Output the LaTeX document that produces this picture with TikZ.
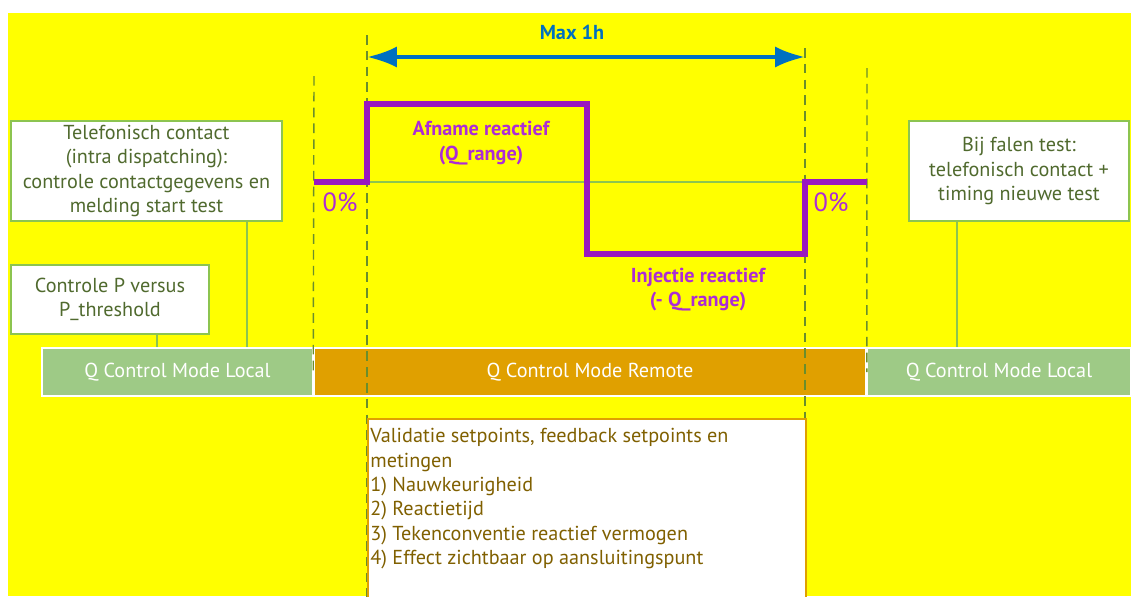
\documentclass[tikz,border=0pt]{standalone}
\usepackage{fontspec}
\setmainfont{PT Sans}
\usetikzlibrary{arrows.meta}
\definecolor{bgyellow}{RGB}{255,255,0}
\definecolor{maxblue}{RGB}{0,112,192}
\definecolor{sigpurple}{RGB}{153,24,192}
\definecolor{txtpurple}{RGB}{172,44,214}
\definecolor{dashgreen}{RGB}{106,142,44}
\definecolor{boxgreen}{RGB}{140,196,80}
\definecolor{txtgreen}{RGB}{80,106,46}
\definecolor{localgreen}{RGB}{158,202,134}
\definecolor{remoteorange}{RGB}{224,160,0}
\definecolor{txtbrown}{RGB}{128,96,0}
\newlength{\px}
\setlength{\px}{0.02cm}

\begin{document}
\begin{tikzpicture}[x=0.02cm,y=-0.02cm,
    note/.style={draw=boxgreen,line width=0.9pt,fill=white,text=txtgreen,align=center,inner sep=0pt,font=\fontsize{11.5}{14}\selectfont},
    mode/.style={draw=white,line width=0.9pt,text=white,minimum height=48\px,inner sep=0pt,font=\fontsize{11.5}{14}\selectfont},
    tline/.style={draw=dashgreen,line width=0.8pt,dash pattern=on 5.5pt off 3.5pt},
    link/.style={draw=boxgreen,line width=0.9pt},
    siglabel/.style={text=txtpurple,align=center,font=\fontsize{11.5}{14}\selectfont\bfseries},
    zerolabel/.style={text=txtpurple,font=\fontsize{15}{17}\selectfont},
    signal/.style={draw=sigpurple,line width=3.4pt},
    span/.style={draw=maxblue,line width=2.3pt,{Latex[length=17pt,width=12pt]}-{Latex[length=17pt,width=12pt]}}]
\useasboundingbox (0,0) rectangle (1131,596);
\fill[bgyellow] (8,13) rectangle (1131,596);
% text boxes
\node[note,minimum width=271\px,minimum height=100\px] (phone) at (146.5,171) {Telefonisch contact\\(intra dispatching):\\controle contactgegevens en\\melding start test};
\node[note,minimum width=198\px,minimum height=69\px] (pcheck) at (110,299.5) {Controle P versus\\P\_threshold};
\node[note,minimum width=220\px,minimum height=100\px] (fail) at (1019,171) {Bij falen test:\\telefonisch contact +\\timing nieuwe test};
% mode bars
\node[mode,fill=localgreen,minimum width=271\px] (localL) at (177.5,372) {Q Control Mode Local};
\node[mode,fill=remoteorange,minimum width=552\px] (remote) at (590,372) {Q Control Mode Remote};
\node[mode,fill=localgreen,minimum width=264\px] (localR) at (999,372) {Q Control Mode Local};
\coordinate (tphone) at (247,0);
\coordinate (tpcheck) at (157,0);
\coordinate (tfail) at (957,0);
\draw[link] (phone.south -| tphone) -- (localL.north -| tphone);
\draw[link] (pcheck.south -| tpcheck) -- (localL.north -| tpcheck);
\draw[link] (fail.south -| tfail) -- (localR.north -| tfail);
% time marks
\coordinate (t0) at (314,76);
\coordinate (t1) at (367,35);
\coordinate (t2) at (805,48);
\coordinate (t3) at (867,68);
\draw[tline] (t0) -- (remote.west);
\draw[tline] (t3) -- (remote.east);
\draw[tline] (t1) -- (367,600);
\draw[tline] (t2) -- (805,600);
\node[draw=remoteorange,line width=0.9pt,fill=white,anchor=north west,minimum width=438\px,minimum height=200\px] (valid) at (367,418) {};
\node[text=txtbrown,anchor=north west,align=left,inner xsep=3\px,inner ysep=10\px,font=\fontsize{11.5}{13.9}\selectfont] (validtext) at (valid.north west) {Validatie setpoints, feedback setpoints en\\metingen\\1) Nauwkeurigheid\\2) Reactietijd\\3) Tekenconventie reactief vermogen\\4) Effect zichtbaar op aansluitingspunt};
% setpoint signal
\draw[draw=boxgreen,line width=0.9pt] (367,182) -- (805,182);
\draw[signal] (314,182) -- (367,182) -- (367,104) -- (587,104) -- (587,254) -- (805,254) -- (805,182) -- (867,182);
\node[siglabel] (absorb) at (481,143) {Afname reactief\\(Q\_range)};
\node[siglabel] (inject) at (698,289.5) {Injectie reactief\\(- Q\_range)};
\node[zerolabel] (zeroL) at (340,202) {0\%};
\node[zerolabel] (zeroR) at (831,202) {0\%};
% duration
\coordinate (spanL) at (367,57);
\coordinate (spanR) at (805,57);
\draw[span] (spanL) -- (spanR);
\node[text=maxblue,font=\fontsize{11.5}{14}\selectfont\bfseries] (maxtime) at (572,32) {Max 1h};
\end{tikzpicture}
\end{document}
